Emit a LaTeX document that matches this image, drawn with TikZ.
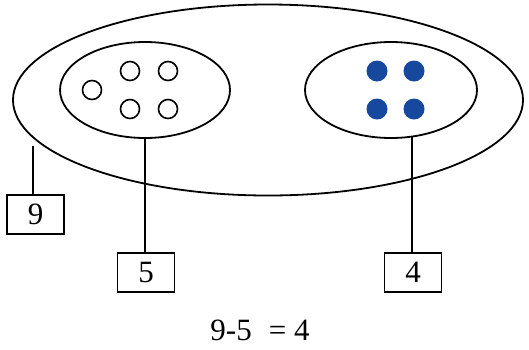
\documentclass[tikz,border=0pt]{standalone}
\usepackage{fontspec}
\setmainfont{Liberation Serif}
\usetikzlibrary{shapes.geometric}
\definecolor{dotblue}{RGB}{22,72,158}
\begin{document}
\begin{tikzpicture}[x=1pt,y=-1pt,line width=1.8pt,
  oval/.style={draw,ellipse,inner sep=0pt,outer sep=0pt},
  hole/.style={draw,circle,minimum size=19pt,inner sep=0pt,line width=1.6pt},
  dot/.style={circle,fill=dotblue,minimum size=21pt,inner sep=0pt},
  numbox/.style={draw,minimum width=57pt,minimum height=39pt,inner sep=0pt,font=\fontsize{31}{31}\selectfont}]
\useasboundingbox (0,0) rectangle (529,349);
\node[oval,minimum width=510pt,minimum height=191pt] (big) at (268,100) {};
\node[oval,minimum width=170pt,minimum height=96pt] (in1) at (145,90) {};
\node[oval,minimum width=172pt,minimum height=96pt] (in2) at (391,90) {};
\node[hole] (h1) at (92,90) {};
\node[hole] (h2) at (130,71) {};
\node[hole] (h3) at (168,71) {};
\node[hole] (h4) at (130,109) {};
\node[hole] (h5) at (168,109) {};
\node[dot] (d1) at (377,71) {};
\node[dot] (d2) at (414,71) {};
\node[dot] (d3) at (377,109) {};
\node[dot] (d4) at (414,109) {};
\node[numbox] (b9) at (35.5,214.5) {9};
\node[numbox] (b5) at (146,272.5) {5};
\node[numbox] (b4) at (413,272.5) {4};
\coordinate (c9) at (33,146);
\draw (c9) -- (c9 |- b9.north);
\draw (in1.south) -- (in1.south |- b5.north);
\coordinate (c4) at (412,137);
\draw (c4) -- (c4 |- b4.north);
\node[font=\fontsize{31}{31}\selectfont] (eq) at (260,330) {9-5\hspace{0.3em} = 4};
\end{tikzpicture}
\end{document}
